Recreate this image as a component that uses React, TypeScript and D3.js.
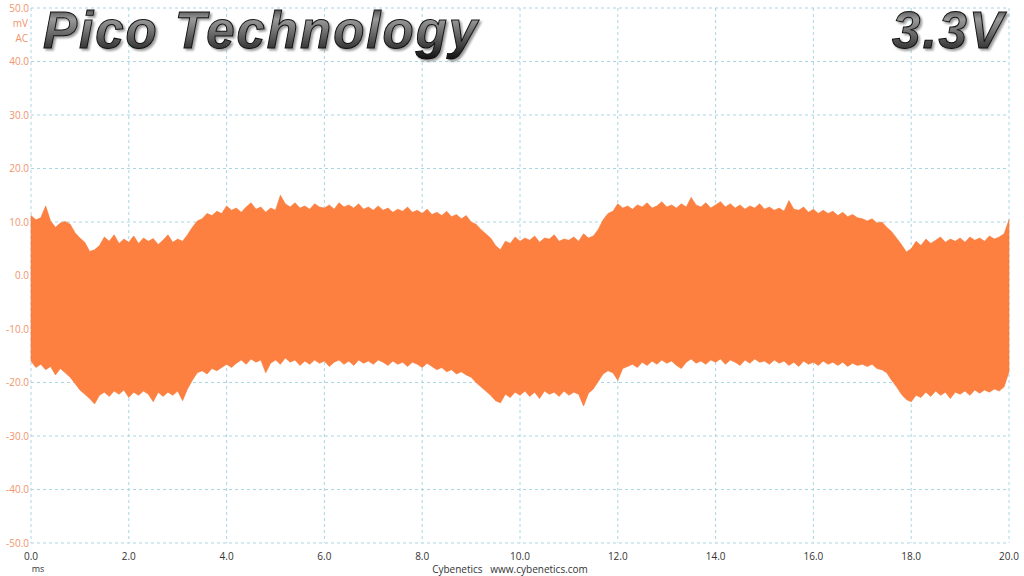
import React from "react";
import * as d3 from "d3";

const TIME_STEP = 0.1; // ms between envelope samples
const UPPER = [
  11.2, 10.4, 10.8, 13.0, 10.2, 9.0, 9.8, 10.1, 9.6, 8.0,
  7.0, 6.2, 4.5, 4.8, 5.6, 7.2, 6.4, 7.6, 6.0, 6.8,
  6.2, 7.4, 6.0, 7.0, 6.4, 6.9, 5.8, 6.6, 7.6, 6.2,
  6.8, 6.4, 7.6, 9.0, 10.2, 10.6, 11.6, 11.2, 12.0, 11.6,
  13.0, 12.2, 12.6, 11.8, 12.8, 13.6, 12.4, 12.8, 11.8, 12.6,
  12.2, 15.0, 13.4, 12.8, 13.6, 12.6, 13.0, 12.4, 13.4, 12.8,
  12.6, 13.2, 12.4, 13.6, 12.8, 13.2, 12.6, 13.4, 12.4, 12.8,
  12.2, 13.0, 12.2, 12.6, 11.8, 12.4, 12.0, 12.8, 11.8, 12.2,
  11.6, 12.4, 11.4, 11.8, 11.2, 12.0, 11.0, 11.4, 10.6, 11.2,
  10.0, 9.6, 8.6, 7.8, 7.0, 5.6, 4.8, 6.4, 6.0, 7.2,
  6.4, 7.0, 6.6, 7.4, 6.2, 7.0, 6.8, 7.6, 6.4, 6.8,
  6.6, 7.2, 6.4, 7.8, 7.0, 7.4, 8.6, 10.4, 11.6, 12.0,
  13.4, 12.6, 13.0, 12.4, 13.2, 12.8, 13.6, 12.6, 13.0, 13.8,
  12.8, 13.2, 12.6, 13.4, 12.8, 14.6, 13.2, 12.8, 13.6, 12.6,
  13.2, 13.8, 12.8, 13.4, 12.6, 13.2, 12.4, 13.0, 12.6, 13.4,
  12.4, 12.8, 12.2, 12.6, 12.0, 14.0, 12.4, 12.2, 12.8, 11.8,
  12.4, 11.6, 12.2, 11.6, 12.0, 11.2, 11.8, 11.0, 11.4, 10.8,
  10.6, 10.2, 10.6, 9.8, 10.0, 9.0, 8.2, 7.0, 5.8, 4.4,
  5.0, 6.4, 5.6, 6.8, 6.0, 6.6, 7.2, 6.2, 6.8, 6.4,
  7.0, 6.2, 7.2, 6.6, 7.0, 6.4, 7.4, 6.8, 7.2, 7.8,
  10.4,
];
const LOWER = [
  -16.0, -17.2, -16.6, -17.6, -17.0, -18.6, -17.4, -18.2, -19.0, -20.2,
  -21.4, -22.2, -23.0, -24.0, -22.4, -21.8, -22.6, -21.6, -22.2, -21.4,
  -22.8, -21.8, -22.4, -21.6, -22.2, -23.6, -21.8, -22.6, -21.8, -22.4,
  -21.6, -23.4, -21.2, -19.6, -18.2, -17.8, -18.4, -17.4, -17.8, -17.2,
  -16.6, -17.2, -16.4, -15.8, -16.6, -15.6, -16.2, -15.8, -18.2, -16.4,
  -15.8, -16.6, -15.4, -16.2, -15.8, -16.8, -16.0, -16.6, -15.8, -16.4,
  -16.0, -17.0, -16.2, -15.8, -16.6, -16.0, -16.8, -15.8, -16.4, -16.0,
  -16.6, -15.8, -16.2, -16.8, -16.0, -16.6, -16.2, -17.0, -16.2, -16.6,
  -17.2, -16.4, -17.0, -17.6, -17.2, -18.0, -17.6, -18.4, -18.0, -18.6,
  -19.0, -20.0, -20.8, -21.6, -22.4, -23.4, -23.8, -22.2, -22.8, -21.8,
  -22.4, -21.6, -22.6, -21.8, -23.0, -21.6, -22.2, -21.8, -22.6, -21.6,
  -22.4, -21.8, -22.2, -24.4, -22.0, -21.2, -19.8, -18.4, -17.8, -18.2,
  -19.6, -17.4, -17.0, -16.6, -17.2, -16.2, -16.8, -16.0, -16.6, -15.8,
  -16.4, -16.0, -16.8, -17.4, -16.2, -15.6, -16.4, -16.0, -16.6, -15.8,
  -16.2, -15.6, -16.6, -15.8, -16.2, -16.8, -15.8, -16.4, -15.6, -16.2,
  -16.0, -16.6, -15.8, -16.4, -16.0, -16.8, -16.2, -17.0, -16.0, -16.6,
  -16.2, -16.8, -16.0, -16.6, -16.2, -16.8, -16.2, -17.0, -16.4, -16.8,
  -16.6, -17.0, -16.6, -17.4, -17.6, -18.2, -19.6, -20.8, -22.2, -23.2,
  -23.6, -22.4, -22.8, -21.8, -22.6, -21.6, -22.4, -21.8, -23.0, -21.8,
  -22.2, -21.6, -22.4, -21.4, -22.0, -21.4, -21.8, -21.2, -21.6, -20.8,
  -18.0,
];
const X_TICKS = [0, 2, 4, 6, 8, 10, 12, 14, 16, 18, 20];
const Y_TICKS = [50, 40, 30, 20, 10, 0, -10, -20, -30, -40, -50];
const TITLE = "Pico Technology";
const RAIL = "3.3V";
const Y_UNIT = ["mV", "AC"];
const X_UNIT = "ms";
const CREDIT = "Cybenetics   www.cybenetics.com";

const W = 1024;
const H = 576;
const L = 31;
const R = 1009;
const T = 8;
const B = 543;

export default function App() {
  const x = d3.scaleLinear().domain([0, 20]).range([L, R]);
  const y = d3.scaleLinear().domain([-50, 50]).range([B, T]);
  const data = UPPER.map((u, i) => ({ t: i * TIME_STEP, u, l: LOWER[i] }));
  const area = d3
    .area<{ t: number; u: number; l: number }>()
    .x((d) => x(d.t))
    .y0((d) => y(d.l))
    .y1((d) => y(d.u))
    .curve(d3.curveLinear);

  const grid = "#a9d6e2";
  const tickColor = "#f0946c";
  const font = "'Open Sans', 'DejaVu Sans', sans-serif";

  const titleProps = {
    fontSize: 51,
    fontWeight: "bold" as const,
    fontStyle: "italic" as const,
    fontFamily: "'Liberation Sans', Arial, sans-serif",
    fill: "url(#tg)",
    stroke: "#111",
    strokeWidth: 1,
    letterSpacing: 2,
    filter: "url(#sh)",
  };

  return (
    <svg
      width={W}
      height={H}
      style={{ position: "fixed", left: 0, top: 0, background: "#fff" }}
    >
      <defs>
        <linearGradient id="tg" x1="0" y1="0" x2="0" y2="1">
          <stop offset="0" stopColor="#1a1a1a" />
          <stop offset="0.3" stopColor="#9a9a9a" />
          <stop offset="0.55" stopColor="#6a6a6a" />
          <stop offset="1" stopColor="#111" />
        </linearGradient>
        <filter id="sh" x="-5%" y="-20%" width="110%" height="140%">
          <feGaussianBlur in="SourceAlpha" stdDeviation="1" />
          <feOffset dx="1.5" dy="1.5" result="b" />
          <feComponentTransfer>
            <feFuncA type="linear" slope="0.4" />
          </feComponentTransfer>
          <feMerge>
            <feMergeNode />
            <feMergeNode in="SourceGraphic" />
          </feMerge>
        </filter>
      </defs>
      <rect x={0} y={0} width={W} height={H} fill="#fff" />
      {X_TICKS.map((t) => (
        <line
          key={"gx" + t}
          x1={x(t)}
          x2={x(t)}
          y1={T}
          y2={B}
          stroke={grid}
          strokeWidth={1}
          strokeDasharray="3,3"
        />
      ))}
      {Y_TICKS.map((v) => (
        <line
          key={"gy" + v}
          x1={L}
          x2={R}
          y1={y(v)}
          y2={y(v)}
          stroke={grid}
          strokeWidth={1}
          strokeDasharray="3,3"
        />
      ))}
      <path d={area(data) ?? ""} fill="#fe8040" stroke="#f07a3c" strokeWidth={0.6} />
      {Y_TICKS.map((v) => (
        <text
          key={"ly" + v}
          x={L - 2}
          y={y(v)}
          dy="0.35em"
          textAnchor="end"
          fontSize={10}
          fill={tickColor}
          fontFamily={font}
        >
          {v.toFixed(1)}
        </text>
      ))}
      {Y_UNIT.map((s, i) => (
        <text
          key={s}
          x={L - 3}
          y={y(50) + 15 + i * 15}
          dy="0.35em"
          textAnchor="end"
          fontSize={10}
          fill={tickColor}
          fontFamily={font}
        >
          {s}
        </text>
      ))}
      {X_TICKS.map((t) => (
        <text
          key={"lx" + t}
          x={x(t)}
          y={B + 13}
          dy="0.35em"
          textAnchor="middle"
          fontSize={10}
          fill="#333"
          fontFamily={font}
        >
          {t.toFixed(1)}
        </text>
      ))}
      <text x={38} y={569} dy="0.35em" textAnchor="middle" fontSize={9} fill="#333" fontFamily={font}>
        {X_UNIT}
      </text>
      <text
        x={510}
        y={569}
        dy="0.35em"
        textAnchor="middle"
        fontSize={10}
        fill="#333"
        fontFamily={font}
        style={{ whiteSpace: "pre" }}
      >
        {CREDIT}
      </text>
      <text x={43} y={48} {...titleProps}>
        {TITLE}
      </text>
      <text x={1005} y={48} textAnchor="end" {...titleProps}>
        {RAIL}
      </text>
    </svg>
  );
}
